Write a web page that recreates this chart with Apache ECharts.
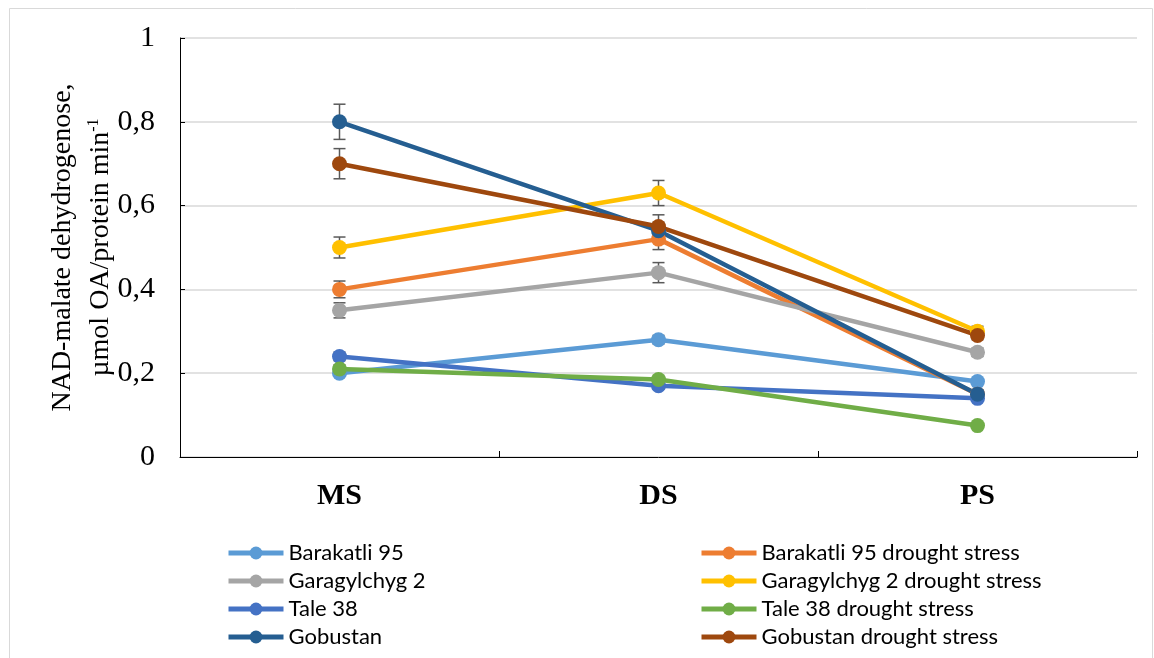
<!DOCTYPE html>
<html>
<head>
<meta charset="utf-8">
<script src="https://cdn.jsdelivr.net/npm/echarts@6/dist/echarts.min.js"></script>
<style>
  html, body { margin: 0; padding: 0; background: #ffffff; }
  #chart { width: 1154px; height: 658px; }
</style>
</head>
<body>
<div id="chart"></div>
<script>
// Growth stages on the x axis
const stages = ['MS', 'DS', 'PS'];
const yTicks = [0, 0.2, 0.4, 0.6, 0.8, 1];

// NAD-malate dehydrogenase activity, µmol OA / protein min⁻¹
const barakatli95        = [0.20, 0.28, 0.18];
const barakatli95Drought = [0.40, 0.52, 0.15];
const garagylchyg2       = [0.35, 0.44, 0.25];
const garagylchyg2Drought= [0.50, 0.63, 0.30];
const tale38             = [0.24, 0.17, 0.14];
const tale38Drought      = [0.21, 0.185, 0.075];
const gobustan           = [0.80, 0.54, 0.15];
const gobustanDrought    = [0.70, 0.55, 0.29];

// Standard errors
const barakatli95Err        = [0.005, 0.01, 0.005];
const barakatli95DroughtErr = [0.02, 0.025, 0.01];
const garagylchyg2Err       = [0.018, 0.024, 0.01];
const garagylchyg2DroughtErr= [0.025, 0.03, 0.012];
const tale38Err             = [0.01, 0.008, 0.005];
const tale38DroughtErr      = [0.01, 0.008, 0.005];
const gobustanErr           = [0.042, 0.02, 0.01];
const gobustanDroughtErr    = [0.036, 0.028, 0.01];

const seriesDefs = [
  { name: 'Barakatli 95', values: barakatli95, err: barakatli95Err, color: '#5B9BD5' },
  { name: 'Barakatli 95 drought stress', values: barakatli95Drought, err: barakatli95DroughtErr, color: '#ED7D31' },
  { name: 'Garagylchyg 2', values: garagylchyg2, err: garagylchyg2Err, color: '#A5A5A5' },
  { name: 'Garagylchyg 2 drought stress', values: garagylchyg2Drought, err: garagylchyg2DroughtErr, color: '#FFC000' },
  { name: 'Tale 38', values: tale38, err: tale38Err, color: '#4472C4' },
  { name: 'Tale 38 drought stress', values: tale38Drought, err: tale38DroughtErr, color: '#70AD47' },
  { name: 'Gobustan', values: gobustan, err: gobustanErr, color: '#255E91' },
  { name: 'Gobustan drought stress', values: gobustanDrought, err: gobustanDroughtErr, color: '#9E480E' }
];

const serif = '"Liberation Serif", "Times New Roman", serif';

const chart = echarts.init(document.getElementById('chart'), null, { renderer: 'canvas' });

const errData = [];
seriesDefs.forEach(function (s) {
  s.values.forEach(function (v, i) { errData.push([i, v, s.err[i]]); });
});

const series = [];
seriesDefs.forEach(function (s) {
  series.push({
    name: s.name,
    type: 'line',
    data: s.values,
    symbol: 'circle',
    symbolSize: 15,
    z: 3,
    lineStyle: { color: s.color, width: 4.5 },
    itemStyle: { color: s.color },
    emphasis: { disabled: true },
    animation: false
  });
});

// Error bars with caps
series.push({
  type: 'custom',
  name: 'err',
  z: 2,
  data: errData,
  encode: { x: 0, y: 1 },
  silent: true,
  animation: false,
  renderItem: function (params, api) {
    const x = api.value(0), y = api.value(1), e = api.value(2);
    const top = api.coord([x, y + e]);
    const bot = api.coord([x, y - e]);
    const hw = 6;
    const st = { stroke: '#595959', lineWidth: 1.5 };
    return {
      type: 'group',
      children: [
        { type: 'line', shape: { x1: top[0], y1: top[1], x2: bot[0], y2: bot[1] }, style: st },
        { type: 'line', shape: { x1: top[0] - hw, y1: top[1], x2: top[0] + hw, y2: top[1] }, style: st },
        { type: 'line', shape: { x1: bot[0] - hw, y1: bot[1], x2: bot[0] + hw, y2: bot[1] }, style: st }
      ]
    };
  }
});

const legendCommon = {
  orient: 'vertical',
  padding: 0,
  itemWidth: 55,
  itemHeight: 16,
  itemGap: 6,
  selectedMode: false,
  lineStyle: { width: 5 },
  textStyle: { fontFamily: 'Lato, "Open Sans", sans-serif', fontSize: 22, color: '#000', lineHeight: 22 }
};

const option = {
  backgroundColor: '#ffffff',
  animation: false,
  graphic: [{
    type: 'rect',
    shape: { x: 9.5, y: 8.5, width: 1143, height: 660 },
    style: { fill: 'none', stroke: '#d9d9d9', lineWidth: 1 },
    silent: true
  }],
  grid: { left: 180, right: 17, top: 38, bottom: 201, containLabel: false },
  legend: [
    Object.assign({}, legendCommon, {
      left: 226, top: 542,
      data: [seriesDefs[0].name, seriesDefs[2].name, seriesDefs[4].name, seriesDefs[6].name]
    }),
    Object.assign({}, legendCommon, {
      left: 699, top: 542,
      data: [seriesDefs[1].name, seriesDefs[3].name, seriesDefs[5].name, seriesDefs[7].name]
    })
  ],
  xAxis: {
    type: 'category',
    data: stages,
    boundaryGap: true,
    axisLine: { lineStyle: { color: '#000', width: 1 } },
    axisTick: { show: true, inside: true, length: 6, lineStyle: { color: '#000' }, alignWithLabel: false },
    axisLabel: {
      margin: 24,
      color: '#000',
      fontFamily: serif,
      fontWeight: 'bold',
      fontSize: 30
    },
    splitLine: { show: false }
  },
  yAxis: {
    type: 'value',
    min: yTicks[0],
    max: yTicks[yTicks.length - 1],
    interval: 0.2,
    axisLine: { show: true, lineStyle: { color: '#000', width: 1 } },
    axisTick: { show: true, inside: true, length: 5, lineStyle: { color: '#000' } },
    splitLine: { show: true, lineStyle: { color: '#d9d9d9', width: 1.5 } },
    axisLabel: {
      margin: 25,
      color: '#000',
      fontFamily: serif,
      fontSize: 30,
      formatter: function (v) {
        if (v === 0 || v === 1) return String(v);
        return v.toFixed(1).replace('.', ',');
      }
    },
    name: '{a|NAD-malate dehydrogenose,}\n{a|µmol OA/protein min}{sup|-1}',
    nameLocation: 'middle',
    nameGap: 60,
    nameMoveOverlap: false,
    nameRotate: 90,
    nameTextStyle: {
      rich: {
        a: { fontFamily: serif, fontSize: 28, color: '#000', lineHeight: 38 },
        sup: { fontFamily: serif, fontSize: 16, color: '#000', lineHeight: 38, padding: [0, 0, 14, 0] }
      }
    }
  },
  series: series
};

chart.setOption(option);
</script>
</body>
</html>
